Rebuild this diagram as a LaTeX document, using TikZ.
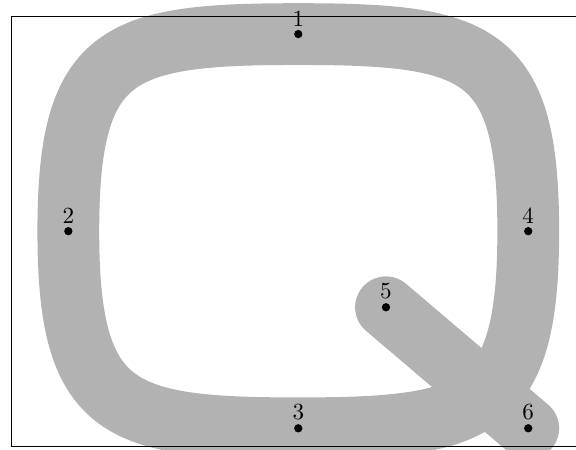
\documentclass[tikz,border=0pt]{standalone}
\usepackage{tikz}
\usetikzlibrary{positioning}

\tikzset{
  qstroke/.style={gray!60,line width=0.94cm},
  qtail/.style={qstroke,line cap=round},
  ptdot/.style={fill=black},
  ptlabel/.style={above,inner sep=3.3pt}
}

\begin{document}
\begin{tikzpicture}
            \useasboundingbox (-4.54,-3.33) rectangle (4.227,3.519);
            \clip (-4.54,-3.33) rectangle (4.227,3.519);
            % Points of the letter
            \coordinate (p1) at (0,3);
            \coordinate (p2) at (-3.5,0);
            \coordinate (p3) at (0,-3);
            \coordinate (p4) at (3.5,0);
            \coordinate (p5) at (1.335,-1.158);
            \coordinate (p6) at (3.5,-3);
            % Q body (rounded square)
            \draw[qstroke] (p1) .. controls (2.75,3) and (3.5,2.75) .. (p4)
                .. controls (3.5,-2.75) and (2.75,-3) .. (p3)
                .. controls (-2.75,-3) and (-3.5,-2.75) .. (p2)
                .. controls (-3.5,2.75) and (-2.75,3) .. (p1) -- cycle;
            % Q tail
            \draw[qtail] (p5) -- (p6);
            % Frame
            \draw (-4.37,-3.27) rectangle (4.37,3.275);
            % Dots and numbers
            \foreach \i in {1,...,6}{
                \fill[ptdot] (p\i) circle (1.8pt);
                \node[ptlabel] (l\i) at (p\i) {\i};
            }
        \end{tikzpicture}
\end{document}
